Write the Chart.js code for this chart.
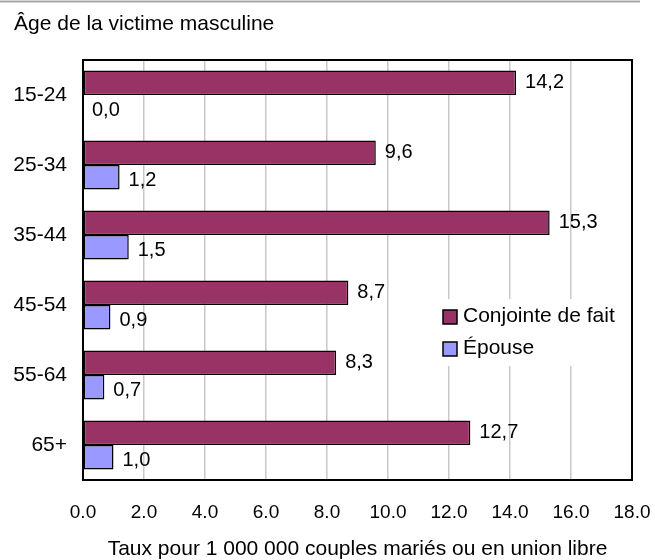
<!DOCTYPE html>
<html>
<head>
<meta charset="utf-8">
<script src="https://cdn.jsdelivr.net/npm/chart.js@4"></script>
<style>
  html, body { margin: 0; padding: 0; background: #fff; }
  #wrap { width: 655px; height: 560px; }
</style>
</head>
<body>
<div id="wrap"><canvas id="graf" width="655" height="560"></canvas></div>
<script>
// data lest av bildet
const ageGroups = ['15-24', '25-34', '35-44', '45-54', '55-64', '65+'];
const conjointe = [14.2, 9.6, 15.3, 8.7, 8.3, 12.7];
const epouse = [0.0, 1.2, 1.5, 0.9, 0.7, 1.0];
const xTicks = [0, 2, 4, 6, 8, 10, 12, 14, 16, 18];
const seriesNames = ['Conjointe de fait', 'Épouse'];

const FONT = "'Liberation Sans', Arial, sans-serif";
Chart.defaults.font.family = FONT;
Chart.defaults.font.size = 21;
Chart.defaults.color = '#000';

// ramme, topplinje, verdier og legende tegnes selv
const extras = {
    id: 'extras',
    beforeDraw(chart) {
        const ctx = chart.ctx;
        ctx.save();
        ctx.strokeStyle = '#a6a6a6';
        ctx.lineWidth = 2;
        ctx.beginPath();
        ctx.moveTo(0, 1.5);
        ctx.lineTo(640, 1.5);
        ctx.stroke();
        ctx.restore();
    },
    afterDatasetsDraw(chart) {
        const ctx = chart.ctx;
        const a = chart.chartArea;
        ctx.save();
        ctx.font = '20px ' + FONT;
        ctx.fillStyle = '#000';
        ctx.textAlign = 'left';
        ctx.textBaseline = 'middle';
        chart.data.datasets.forEach((ds, i) => {
            const meta = chart.getDatasetMeta(i);
            meta.data.forEach((bar, j) => {
                const txt = ds.data[j].toFixed(1).replace('.', ',');
                ctx.fillText(txt, bar.x + 9, bar.y + (i === 0 ? 0 : 3));
            });
        });

        // legende med hvit bakgrunn
        ctx.fillStyle = '#fff';
        ctx.fillRect(437, 299, 190, 67);
        ctx.font = '21px ' + FONT;
        chart.data.datasets.forEach((ds, i) => {
            const y = 317 + i * 32;
            ctx.fillStyle = ds.backgroundColor;
            ctx.fillRect(443, y - 7, 14, 14);
            ctx.strokeStyle = '#000';
            ctx.lineWidth = 1.5;
            ctx.strokeRect(443, y - 7, 14, 14);
            ctx.fillStyle = '#000';
            ctx.fillText(ds.label, 463, y - 1);
        });

        ctx.strokeStyle = '#000';
        ctx.lineWidth = 2;
        ctx.strokeRect(a.left, a.top, a.right - a.left, a.bottom - a.top);
        ctx.restore();
    }
};

new Chart(document.getElementById('graf'), {
    type: 'bar',
    data: {
        labels: ageGroups,
        datasets: [
            {
                label: seriesNames[0],
                data: conjointe,
                backgroundColor: '#993366',
                borderColor: '#000',
                borderWidth: 1.5,
                borderSkipped: false
            },
            {
                label: seriesNames[1],
                data: epouse,
                backgroundColor: '#9999ff',
                borderColor: '#000',
                borderWidth: 1.5,
                borderSkipped: false
            }
        ]
    },
    options: {
        indexAxis: 'y',
        responsive: false,
        animation: false,
        categoryPercentage: 0.7,
        barPercentage: 1.0,
        layout: { padding: { left: 14, right: 23, top: 0, bottom: 0 } },
        plugins: {
            legend: { display: false },
            tooltip: { enabled: false },
            title: {
                display: true,
                text: 'Âge de la victime masculine',
                align: 'start',
                font: { size: 21, weight: 'normal' },
                padding: { top: 12, bottom: 22.8 }
            }
        },
        scales: {
            x: {
                min: 0,
                max: 18,
                afterBuildTicks(scale) {
                    scale.ticks = xTicks.map(v => ({ value: v }));
                },
                afterFit(scale) {
                    scale.height = 80;
                    scale.paddingLeft = 0;
                    scale.paddingRight = 0;
                },
                grid: { color: '#c8c8c8', lineWidth: 1.5, drawTicks: false },
                border: { display: false },
                ticks: {
                    padding: 21,
                    font: { size: 19 },
                    callback: v => Number(v).toFixed(1)
                },
                title: {
                    display: true,
                    text: 'Taux pour 1 000 000 couples mariés ou en union libre',
                    font: { size: 21 },
                    padding: { top: 0, bottom: -1.5 }
                }
            },
            y: {
                afterFit(scale) {
                    scale.width = 69;
                    scale.paddingTop = 0;
                    scale.paddingBottom = 0;
                },
                grid: { display: false, drawTicks: false },
                border: { display: false },
                ticks: { padding: 16, font: { size: 21 } }
            }
        }
    },
    plugins: [extras]
});
</script>
</body>
</html>
